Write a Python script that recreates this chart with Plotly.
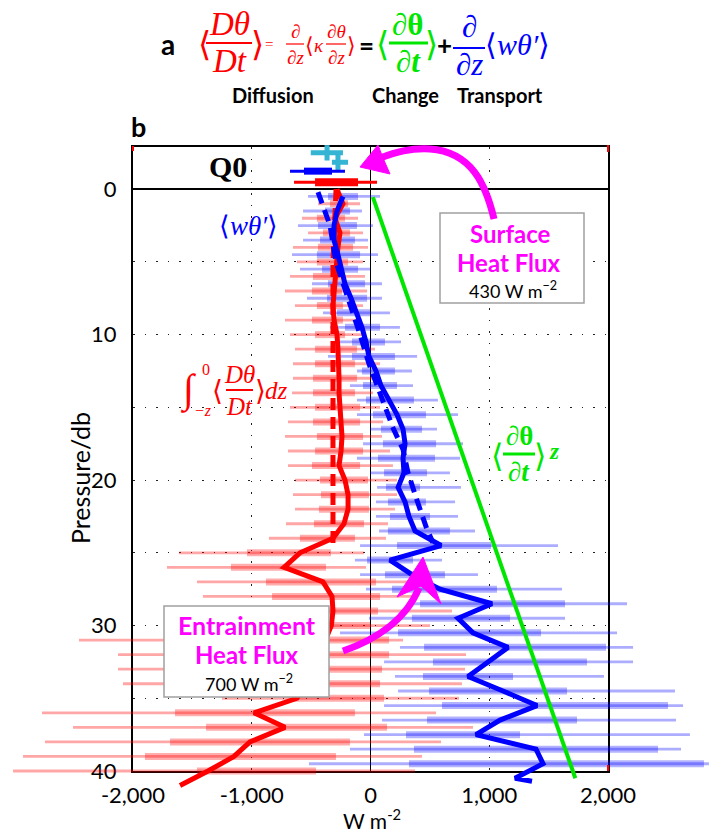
import plotly.graph_objects as go

W, H = 710, 834

# ---------------- data (W m^-2 vs pressure/db) ----------------
red_depth = list(range(1, 41))
red_whisk_lo = [-442, -577, -526, -653, -619, -678, -720, -636, -720, -678,
                -636, -653, -653, -661, -678, -695, -720, -695, -695, -636,
                -653, -636, -712, -855, -1613, -1714, -1461, -1411, -1520, -1436,
                -2455, -2126, -2126, -2084, -1251, -2766, -2505, -2741, -2926, -3010]
red_box_lo = [-341, -451, -400, -442, -451, -484, -493, -451, -493, -467,
              -467, -467, -484, -484, -467, -484, -451, -467, -493, -425,
              -417, -434, -476, -594, -1040, -1175, -880, -829, -678, -762,
              -1200, -1099, -1099, -1057, -669, -1646, -1385, -1688, -1899, -1461]
red_box_hi = [-189, -215, -173, -147, -189, -232, -240, -232, -232, -215,
              -114, -131, -114, -131, -88, -88, -63, -63, -88, -21,
              -13, -13, -55, -131, -333, -375, 46, 80, 63, -4,
              156, 156, 97, 80, 114, -131, 139, -173, -291, -459]
red_whisk_hi = [-88, -105, -63, -21, -63, -46, -29, -63, -72, -63,
                38, 80, 38, 21, 80, 105, 97, 164, 189, 223,
                223, 206, 147, 130, -55, -38, 333, 375, 686, 501,
                274, 804, 796, 770, 745, 552, 863, 594, 434, 375]

blue_depth = [d - 0.5 for d in range(1, 41)]
blue_whisk_lo = [-526, -568, -611, -568, -661, -594, -493, -535, -400, -341,
                 -282, -358, -114, -173, -114, -114, -4, -63, -114, -4,
                 55, 46, 46, 72, -88, -131, -88, -38, 358, -13,
                 -257, 248, 114, 206, 232, 114, 97, -55, -173, -518]
blue_box_lo = [-358, -383, -442, -425, -451, -408, -358, -366, -282, -215,
               -156, -156, -72, -63, -38, 21, 88, 105, 63, 114,
               130, 147, 164, 147, 223, -29, 122, 181, 417, 349,
               232, 451, 526, 442, 493, 602, 476, 299, 366, 324]
blue_box_hi = [-105, -173, -114, -131, -88, -105, -46, -29, -4, 80,
               122, 206, 206, 223, 366, 467, 434, 552, 543, 476,
               417, 467, 501, 669, 1015, 358, 627, 1065, 1638, 1175,
               1436, 1983, 1823, 1200, 1655, 2505, 1739, 1259, 2421, 2808]
blue_whisk_hi = [80, -72, 21, -21, 63, -4, 97, 97, 164, 248,
                 257, 392, 349, 358, 568, 737, 560, 779, 754, 669,
                 762, 712, 737, 880, 1579, 602, 905, 1613, 2160, 1638,
                 2076, 2211, 2211, 1966, 2564, 2632, 2573, 2690, 2615, 2850]

red_line_depth = list(range(0, 42))
red_line_x = [-282, -232, -299, -257, -274, -282, -299, -307, -316, -307,
              -282, -274, -265, -265, -265, -257, -248, -240, -248, -265,
              -215, -189, -189, -223, -316, -594, -728, -400, -324, -316,
              -330, -380, -500, -600, -550, -619, -981, -720, -1015, -1150,
              -1368, -1604]
red_dash_depth = [0, 5, 24.6]
red_dash_x = [-290, -316, -316]

blue_line_depth = [d - 0.5 for d in range(1, 42)] + [40.7]
blue_line_x = [-232, -282, -307, -307, -274, -240, -215, -164, -114, -72,
               -38, -13, 46, 88, 156, 223, 274, 291, 274, 282,
               232, 291, 324, 375, 594, 164, 349, 585, 1023, 737,
               863, 1158, 990, 821, 1116, 1402, 1091, 888, 1394, 1453,
               1217, 1360]
blue_dash_depth = [0.2, 2.5, 5, 8, 10, 12, 14.5, 16.4, 17.9, 19.5, 21.4, 23.4, 24.3]
blue_dash_x = [-442, -341, -291, -164, -88, -13, 105, 189, 274, 316, 392, 476, 526]

green_depth = [0.55, 40.5]
green_x = [20, 1725]

q0_cyan_depth = [-2.5, -1.85]
q0_cyan_lo = [-503, -325]
q0_cyan_hi = [-232, -189]
q0_cyan_med = [-366, -274]
q0_blue_depth = -1.24
q0_blue_whisk = [-678, -215]
q0_blue_box = [-560, -324]
q0_red_depth = -0.48
q0_red_whisk = [-644, 55]
q0_red_box = [-467, -105]

x_ticks = [-2000, -1000, 0, 1000, 2000]
x_ticktext = ["-2,000", "-1,000", "0", "1,000", "2,000"]
y_ticks = [0, 10, 20, 30, 40]
y_ticktext = ["0", "10", "20", "30", "40"]

# ---------------- layout geometry ----------------
FL, FR, FT, FB = 133, 608, 147, 771          # frame in pixels
XR = [-2000, 2000]
YR = [40, -2.9]
ppx = (FR - FL) / (XR[1] - XR[0])
ppy = (FB - FT) / (YR[0] - YR[1])
x2_range = [XR[0] - FL / ppx, XR[1] + (W - FR) / ppx]
y2_range = [YR[0] + (H - FB) / ppy, YR[1] - FT / ppy]

SANS = "Lato"
SERIF = "Liberation Serif"
RED, BLUE, GREEN, MAG = "#ff0000", "#0000ff", "#00e600", "#ff00ff"
CYAN = "#35b4d4"


def segs(lo, hi, dep):
    xs, ys = [], []
    for a, b, d in zip(lo, hi, dep):
        xs += [a, b, None]
        ys += [d, d, None]
    return xs, ys


fig = go.Figure()

# empty trace so that the framed main subplot (x, y) is drawn
fig.add_trace(go.Scatter(x=[None], y=[None], xaxis="x", yaxis="y", mode="lines",
                         hoverinfo="skip", showlegend=False))


def add(xs, ys, color, width, dash=None, mode="lines"):
    fig.add_trace(go.Scatter(x=xs, y=ys, mode=mode, xaxis="x2", yaxis="y2",
                             line=dict(color=color, width=width, dash=dash),
                             hoverinfo="skip", showlegend=False))


# bars
x, y = segs(red_whisk_lo, red_whisk_hi, red_depth)
add(x, y, "rgba(255,0,0,0.35)", 2.8)
x, y = segs(red_box_lo, red_box_hi, red_depth)
add(x, y, "rgba(255,0,0,0.32)", 7)
x, y = segs(blue_whisk_lo, blue_whisk_hi, blue_depth)
add(x, y, "rgba(0,0,255,0.32)", 2.8)
x, y = segs(blue_box_lo, blue_box_hi, blue_depth)
add(x, y, "rgba(0,0,255,0.30)", 7)

# Q0 box plots
x, y = segs(q0_cyan_lo, q0_cyan_hi, q0_cyan_depth)
add(x, y, CYAN, 5)
fig.add_trace(go.Scatter(x=q0_cyan_med, y=q0_cyan_depth, mode="markers", xaxis="x2", yaxis="y2",
                         marker=dict(symbol="line-ns", size=11, line=dict(color=CYAN, width=5)),
                         hoverinfo="skip", showlegend=False))
add(q0_blue_whisk, [q0_blue_depth] * 2, BLUE, 3)
add(q0_blue_box, [q0_blue_depth] * 2, BLUE, 7)
add(q0_red_whisk, [q0_red_depth] * 2, RED, 3)
add(q0_red_box, [q0_red_depth] * 2, RED, 8)

# lines
add(green_x, green_depth, GREEN, 4)
add(red_dash_x, red_dash_depth, RED, 5, dash="12px,7px")
add(red_line_x, red_line_depth, RED, 5)
add(blue_dash_x, blue_dash_depth, BLUE, 5, dash="12px,7px")
add(blue_line_x, blue_line_depth, BLUE, 5)

# ---------------- annotations ----------------
ann = []


def P(px, py):
    return px / W, 1 - py / H


def txt(px, py, s, size, color="black", family=SANS, xa="center", ya="middle"):
    xx, yy = P(px, py)
    ann.append(dict(x=xx, y=yy, xref="paper", yref="paper", text=s, showarrow=False,
                    xanchor=xa, yanchor=ya, borderpad=0,
                    font=dict(size=size, color=color, family=family)))


shapes = []


def pline(x0, y0, x1, y1, color, width):
    a, b = P(x0, y0)
    c, d = P(x1, y1)
    shapes.append(dict(type="line", xref="paper", yref="paper", x0=a, y0=b, x1=c, y1=d,
                       line=dict(color=color, width=width), layer="above"))


def ppath(cmds, color, width=0, fill=None):
    parts = []
    for c, pts in cmds:
        parts.append(c + " " + " ".join("%.5f,%.5f" % P(px, py) for px, py in pts))
    s = " ".join(parts)
    if fill:
        s += " Z"
    shapes.append(dict(type="path", xref="paper", yref="paper", path=s,
                       line=dict(color=color, width=width),
                       fillcolor=fill if fill else "rgba(0,0,0,0)", layer="above"))


def prect(x0, y0, x1, y1):
    a, b = P(x0, y1)
    c, d = P(x1, y0)
    shapes.append(dict(type="rect", xref="paper", yref="paper", x0=a, y0=b, x1=c, y1=d,
                       line=dict(color="#a0a0a0", width=1.5), fillcolor="white", layer="above"))


BR = "DejaVu Sans"
# equation (panel a)
txt(168, 44, "<b>a</b>", 28)
txt(204, 44, "⟨", 34, RED, BR)
txt(229, 24, "<i>Dθ</i>", 33, RED, SERIF)
pline(206, 43, 252, 43, RED, 2)
txt(229, 61, "<i>Dt</i>", 33, RED, SERIF)
txt(257, 44, "⟩", 34, RED, BR)
txt(269, 44, "=", 15, RED, SERIF)
txt(295, 32, "∂", 19, RED, SERIF)
pline(286, 44, 304, 44, RED, 1.2)
txt(295, 57, "<i>∂z</i>", 19, RED, SERIF)
txt(309, 45, "⟨", 22, RED, BR)
txt(319, 46, "<i>κ</i>", 19, RED, SERIF)
txt(336, 32, "<i>∂θ</i>", 19, RED, SERIF)
pline(326, 44, 346, 44, RED, 1.2)
txt(336, 57, "<i>∂z</i>", 19, RED, SERIF)
txt(351, 45, "⟩", 22, RED, BR)
txt(366, 45, "<b>=</b>", 26, "black", SANS)
txt(383, 44, "⟨", 34, GREEN, BR)
txt(408, 24, "<b>∂θ</b>", 31, GREEN, SERIF)
pline(389, 43, 428, 43, GREEN, 3)
txt(408, 62, "<b>∂<i>t</i></b>", 31, GREEN, SERIF)
txt(431, 44, "⟩", 34, GREEN, BR)
txt(444, 45, "<b>+</b>", 26, "black", SANS)
txt(469, 26, "∂", 31, BLUE, SERIF)
pline(453, 48, 485, 48, BLUE, 2)
txt(469, 65, "<i>∂z</i>", 31, BLUE, SERIF)
txt(517, 44, "⟨<i>wθ′</i>⟩", 30, BLUE, SERIF)
txt(273, 95, "<b>Diffusion</b>", 20)
txt(405, 95, "<b>Change</b>", 20)
txt(500, 95, "<b>Transport</b>", 20)

# panel b
txt(138, 127, "<b>b</b>", 27)
txt(228, 167, "<b>Q0</b>", 30, "black", SERIF)
txt(249, 226, "⟨<i>wθ′</i>⟩", 27, BLUE, SERIF)

# integral label
txt(189, 389, "∫", 40, RED, SERIF)
txt(206, 369, "0", 16, RED, SERIF)
txt(203, 410, "<i>−z</i>", 16, RED, SERIF)
txt(217, 390, "⟨", 28, RED, BR)
txt(239, 374, "<i>Dθ</i>", 25, RED, SERIF)
pline(226, 390, 253, 390, RED, 2)
txt(239, 406, "<i>Dt</i>", 25, RED, SERIF)
txt(260, 390, "⟩", 28, RED, BR)
txt(276, 390, "<i>dz</i>", 25, RED, SERIF)

# green label
txt(497, 456, "⟨", 32, GREEN, BR)
txt(519, 436, "<b>∂θ</b>", 27, GREEN, SERIF)
pline(503, 454, 535, 454, GREEN, 3)
txt(519, 472, "<b>∂<i>t</i></b>", 27, GREEN, SERIF)
txt(540, 456, "⟩", 32, GREEN, BR)
txt(554, 451, "<b><i>z</i></b>", 23, GREEN, SERIF)

# boxes
prect(440, 213, 584, 303)
txt(510, 233, "<b>Surface</b>", 24, MAG)
txt(509, 262, "<b>Heat Flux</b>", 24, MAG)
txt(513, 290, "430 W m<sup>−2</sup>", 18)
prect(164, 606, 329, 697)
txt(247, 625, "<b>Entrainment</b>", 25, MAG)
txt(247, 654, "<b>Heat Flux</b>", 24, MAG)
txt(249, 683, "700 W m<sup>−2</sup>", 18)

# arrows
ppath([("M", [(494, 219)]), ("C", [(486, 185), (472, 152), (430, 149)]),
       ("C", [(410, 148), (396, 152), (380, 158)])], MAG, 7)
ppath([("M", [(360, 167)]), ("L", [(378, 145)]), ("L", [(383, 158)]), ("L", [(390, 174)])],
      MAG, 1, MAG)
ppath([("M", [(343, 651)]), ("C", [(372, 641), (405, 622), (419, 588)])], MAG, 7)
ppath([("M", [(423, 557)]), ("L", [(397, 597)]), ("L", [(421, 586)]), ("L", [(441, 604)])],
      MAG, 1, MAG)

# corner red ticks
pline(133, 146, 133, 151, RED, 2)
pline(608, 145, 608, 152, RED, 2)
pline(608, 765, 608, 771, RED, 2)

# axis titles
txt(80, 478, "Pressure/db", 25)
ann[-1]["textangle"] = -90
txt(372, 819, "W m<sup>-2</sup>", 21)

GRID = dict(showgrid=True, gridcolor="#222", gridwidth=1.3, griddash="1.5px,10px")

fig.update_layout(
    width=W, height=H, margin=dict(l=0, r=0, t=0, b=0),
    paper_bgcolor="white", plot_bgcolor="rgba(0,0,0,0)",
    showlegend=False,
    xaxis=dict(domain=[FL / W, FR / W], range=XR, anchor="y",
               tickvals=x_ticks, ticktext=x_ticktext, tickfont=dict(size=22, family=SANS, color="black"),
               zeroline=True, zerolinecolor="black", zerolinewidth=1,
               showline=True, mirror=True, linecolor="black", linewidth=2,
               ticks="", ticklabelstandoff=4, automargin=False, fixedrange=True, **GRID),
    yaxis=dict(domain=[1 - FB / H, 1 - FT / H], range=YR, anchor="x",
               tickvals=y_ticks, ticktext=y_ticktext, tickfont=dict(size=22, family=SANS, color="black"),
               minor=dict(tick0=0, dtick=5, ticks="", **GRID),
               zeroline=True, zerolinecolor="black", zerolinewidth=1.5,
               showline=True, mirror=True, linecolor="black", linewidth=2,
               ticks="", ticklabelstandoff=10, automargin=False, fixedrange=True, **GRID),
    xaxis2=dict(domain=[0, 1], range=x2_range, anchor="y2", visible=False, fixedrange=True),
    yaxis2=dict(domain=[0, 1], range=y2_range, anchor="x2", visible=False, fixedrange=True),
    annotations=ann, shapes=shapes,
)

fig.write_html("out.html")
